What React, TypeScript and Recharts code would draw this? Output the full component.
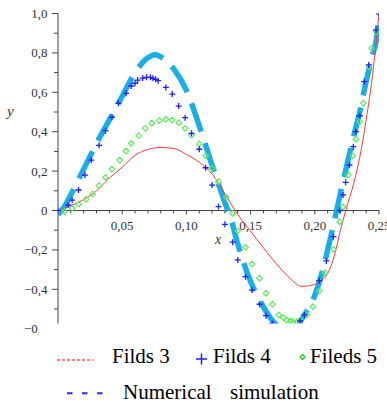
import React from "react";
import { ComposedChart, Line, Scatter, XAxis, YAxis, ReferenceLine } from "recharts";

// ---- Data ----
const fields3X = [0, 0.01, 0.02, 0.03, 0.04, 0.05, 0.06, 0.07, 0.08, 0.09, 0.1, 0.11, 0.12, 0.13, 0.14, 0.15, 0.16, 0.17, 0.18, 0.19, 0.2, 0.21, 0.215, 0.22, 0.225, 0.23, 0.235, 0.24, 0.245, 0.25];
const fields3Y = [0, 0.025, 0.055, 0.1, 0.165, 0.22, 0.28, 0.31, 0.32, 0.315, 0.285, 0.245, 0.185, 0.085, -0.02, -0.105, -0.19, -0.27, -0.34, -0.385, -0.375, -0.32, -0.235, -0.1, 0.02, 0.13, 0.27, 0.46, 0.69, 1.0];

const fields4X = [0, 0.008, 0.011, 0.016, 0.021, 0.026, 0.032, 0.037, 0.042, 0.047, 0.053, 0.057, 0.06, 0.062, 0.066, 0.069, 0.072, 0.074, 0.076, 0.078, 0.084, 0.089, 0.094, 0.099, 0.104, 0.11, 0.115, 0.12, 0.125, 0.13, 0.136, 0.14, 0.146, 0.151, 0.157, 0.162, 0.167, 0.172, 0.177, 0.182, 0.1885, 0.192, 0.2035, 0.209, 0.2145, 0.2195, 0.222, 0.224, 0.227, 0.23, 0.232, 0.235, 0.2385, 0.242, 0.2477, 0.25];
const fields4Y = [0, 0.028, 0.053, 0.104, 0.18, 0.256, 0.331, 0.405, 0.473, 0.544, 0.595, 0.632, 0.646, 0.662, 0.672, 0.676, 0.676, 0.671, 0.666, 0.659, 0.625, 0.591, 0.53, 0.471, 0.392, 0.311, 0.217, 0.129, 0.02, -0.07, -0.161, -0.251, -0.336, -0.404, -0.476, -0.534, -0.573, -0.6, -0.61, -0.6, -0.561, -0.53, -0.356, -0.256, -0.133, 0.0, 0.079, 0.143, 0.231, 0.324, 0.4, 0.481, 0.654, 0.739, 0.916, 1.0];

const fields5X = [0, 0.005, 0.011, 0.016, 0.022, 0.027, 0.032, 0.037, 0.042, 0.048, 0.053, 0.057, 0.063, 0.068, 0.073, 0.079, 0.084, 0.089, 0.094, 0.099, 0.104, 0.11, 0.115, 0.12, 0.125, 0.131, 0.136, 0.14, 0.146, 0.151, 0.157, 0.162, 0.167, 0.172, 0.1755, 0.178, 0.181, 0.183, 0.186, 0.1885, 0.194, 0.1985, 0.2035, 0.208, 0.2145, 0.2195, 0.222, 0.226, 0.2295, 0.232, 0.235, 0.2378, 0.2424, 0.2443, 0.2477, 0.25];
const fields5Y = [0, -0.005, 0.012, 0.032, 0.057, 0.084, 0.126, 0.168, 0.21, 0.256, 0.302, 0.341, 0.38, 0.417, 0.443, 0.456, 0.463, 0.459, 0.446, 0.417, 0.383, 0.338, 0.278, 0.214, 0.146, 0.067, -0.014, -0.103, -0.187, -0.272, -0.344, -0.42, -0.476, -0.53, -0.544, -0.556, -0.561, -0.565, -0.565, -0.556, -0.53, -0.488, -0.409, -0.316, -0.197, -0.057, 0.019, 0.18, 0.277, 0.361, 0.451, 0.544, 0.73, 0.823, 0.908, 1.0];

const numericalX = [0, 0.005, 0.01, 0.02, 0.03, 0.04, 0.05, 0.06, 0.07, 0.076, 0.08, 0.09, 0.1, 0.11, 0.12, 0.13, 0.135, 0.14, 0.15, 0.16, 0.17, 0.178, 0.185, 0.19, 0.2, 0.205, 0.21, 0.215, 0.22, 0.225, 0.23, 0.235, 0.24, 0.245, 0.248, 0.25];
const numericalY = [-0.02, 0.02, 0.08, 0.21, 0.34, 0.46, 0.58, 0.7, 0.775, 0.79, 0.78, 0.72, 0.61, 0.43, 0.23, 0.04, -0.05, -0.17, -0.36, -0.49, -0.58, -0.61, -0.6, -0.55, -0.43, -0.33, -0.2, -0.06, 0.09, 0.23, 0.37, 0.5, 0.655, 0.79, 0.87, 1.0];

const xTicks = [0, 0.01, 0.02, 0.03, 0.04, 0.05, 0.06, 0.07, 0.08, 0.09, 0.1, 0.11, 0.12, 0.13, 0.14, 0.15, 0.16, 0.17, 0.18, 0.19, 0.2, 0.21, 0.22, 0.23, 0.24, 0.25];
const yTicks = [-0.6, -0.5, -0.4, -0.3, -0.2, -0.1, 0, 0.1, 0.2, 0.3, 0.4, 0.5, 0.6, 0.7, 0.8, 0.9, 1.0];

const legendLabels = ["Filds 3", "Filds 4", "Fileds 5", "Numerical", "simulation"];

const toPoints = (xs: number[], ys: number[]) => xs.map((x, i) => ({ x, y: ys[i] }));
const fields3Data = toPoints(fields3X, fields3Y);
const fields4Data = toPoints(fields4X, fields4Y);
const fields5Data = toPoints(fields5X, fields5Y);
const numericalData = toPoints(numericalX, numericalY);

// ---- Layout ----
const W = 387;
const H = 340;
const PLOT_LEFT = 58;
const PLOT_RIGHT = 379;
const PLOT_TOP = 13.5;
const PLOT_BOTTOM = 328.7;
const Y_MIN = -0.6;
const Y_MAX = 1.0;
const ZERO_Y = PLOT_TOP + (Y_MAX / (Y_MAX - Y_MIN)) * (PLOT_BOTTOM - PLOT_TOP);

const AXIS = "#444";
const TICK_TEXT = "#333";
const SERIF = "Liberation Serif, DejaVu Serif, serif";

const near = (a: number, b: number) => Math.abs(a - b) < 1e-6;

const XTick = (props: any) => {
  const { x, payload } = props;
  const v = payload.value as number;
  if (near(v, 0)) return <g />;
  const major = near(v * 20, Math.round(v * 20));
  return (
    <g>
      <line x1={x} x2={x} y1={ZERO_Y} y2={ZERO_Y + (major ? 4 : 3)} stroke={AXIS} strokeWidth={1} />
      {major && (
        <text x={x} y={ZERO_Y + 19} textAnchor="middle" style={{ fontFamily: SERIF, fontSize: 13 }} fill={TICK_TEXT}>
          {v.toFixed(2).replace(".", ",")}
        </text>
      )}
    </g>
  );
};

const YTick = (props: any) => {
  const { y, payload } = props;
  const v = payload.value as number;
  const major = near(v * 5, Math.round(v * 5));
  let label = "";
  if (major) {
    if (near(v, 0)) label = "0";
    else label = (v < 0 ? "\u2212" : "") + Math.abs(v).toFixed(1).replace(".", ",");
  }
  return (
    <g>
      <line x1={PLOT_LEFT - (major ? 6 : 4)} x2={PLOT_LEFT} y1={y} y2={y} stroke={AXIS} strokeWidth={1} />
      {major && (
        <text x={PLOT_LEFT - 10.5} y={y} dy="0.35em" textAnchor="end" style={{ fontFamily: SERIF, fontSize: 13 }} fill={TICK_TEXT}>
          {label}
        </text>
      )}
    </g>
  );
};

const PlusShape = (props: any) => {
  const { cx, cy } = props;
  if (cx == null || cy == null) return <g />;
  const s = 3;
  return (
    <path d={`M${cx - s},${cy}H${cx + s}M${cx},${cy - s}V${cy + s}`} stroke="#1f1fff" strokeWidth={1.3} fill="none" />
  );
};

const DiamondShape = (props: any) => {
  const { cx, cy } = props;
  if (cx == null || cy == null) return <g />;
  const s = 2.8;
  return (
    <path d={`M${cx},${cy - s}L${cx + s},${cy}L${cx},${cy + s}L${cx - s},${cy}Z`} stroke="#5fe85f" strokeWidth={1.2} fill="none" />
  );
};

const legendText = { fontFamily: SERIF, fontSize: 21 };

export default function App() {
  return (
    <div style={{ position: "absolute", left: 0, top: 0, width: W, height: 406, background: "#fff", overflow: "hidden", fontFamily: SERIF }}>
      <ComposedChart
        width={W}
        height={H}
        margin={{ top: PLOT_TOP, right: W - PLOT_RIGHT, left: 0, bottom: H - PLOT_BOTTOM - 1 }}
      >
        <XAxis
          type="number"
          dataKey="x"
          domain={[0, 0.25]}
          ticks={xTicks}
          interval={0}
          allowDataOverflow
          height={1}
          axisLine={false}
          tickLine={false}
          tick={<XTick />}
        />
        <YAxis
          type="number"
          dataKey="y"
          domain={[Y_MIN, Y_MAX]}
          ticks={yTicks}
          interval={0}
          allowDataOverflow
          width={PLOT_LEFT}
          axisLine={{ stroke: AXIS, strokeWidth: 1 }}
          tickLine={false}
          tick={<YTick />}
        />
        <ReferenceLine y={0} stroke={AXIS} strokeWidth={1} />
        <Line
          data={numericalData}
          dataKey="y"
          type="monotone"
          stroke="#1aade6"
          strokeWidth={5.5}
          strokeDasharray="30 12"
          strokeLinecap="butt"
          dot={false}
          isAnimationActive={false}
        />
        <Line
          data={fields3Data}
          dataKey="y"
          type="monotone"
          stroke="#ff3a3a"
          strokeWidth={1}
          dot={false}
          isAnimationActive={false}
        />
        <Scatter data={fields5Data} dataKey="y" shape={<DiamondShape />} isAnimationActive={false} />
        <Scatter data={fields4Data} dataKey="y" shape={<PlusShape />} isAnimationActive={false} />
      </ComposedChart>
      <svg
        width={W}
        height={406}
        style={{ position: "absolute", left: 0, top: 0, pointerEvents: "none" }}
      >
        <text x={7} y={115.5} style={{ fontFamily: SERIF, fontSize: 15, fontStyle: "italic" }} fill={TICK_TEXT}>y</text>
        <text x={215} y={243.5} style={{ fontFamily: SERIF, fontSize: 14, fontStyle: "italic" }} fill={TICK_TEXT}>x</text>
        <rect x={39} y={323.5} width={W - 39} height={406 - 323.5} fill="#fff" />
        <line x1={57} x2={93} y1={360} y2={360} stroke="#ff0000" strokeWidth={1} strokeDasharray="3 2" />
        <text x={112} y={363.3} style={legendText} fill="#000">{legendLabels[0]}</text>
        <path d="M196,359H207M201.5,353.5V364.5" stroke="#1f1fff" strokeWidth={1.5} fill="none" />
        <text x={213} y={363.3} style={legendText} fill="#000">{legendLabels[1]}</text>
        <path d="M302.5,354.5L305,357L302.5,359.5L300,357Z" stroke="#22cc22" strokeWidth={1.3} fill="none" />
        <text x={310} y={363.3} style={legendText} fill="#000">{legendLabels[2]}</text>
        <line x1={67} x2={104} y1={393.3} y2={393.3} stroke="#2a2aff" strokeWidth={2} strokeDasharray="5.5 9.5" />
        <text x={123} y={399.3} style={legendText} fill="#000">{legendLabels[3]}</text>
        <text x={230} y={399.3} style={legendText} fill="#000">{legendLabels[4]}</text>
      </svg>
    </div>
  );
}
